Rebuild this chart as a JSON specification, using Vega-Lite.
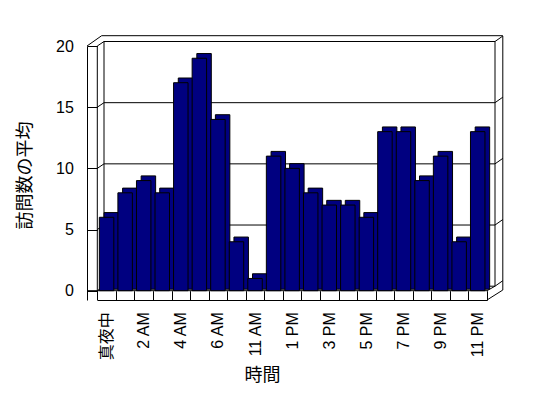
{
  "$schema": "https://vega.github.io/schema/vega-lite/v6.json",
  "width": 400,
  "height": 254,
  "autosize": "none",
  "padding": {"left": 87, "top": 46, "right": 61, "bottom": 98},
  "background": "white",
  "config": {"view": {"stroke": null}, "font": "Liberation Sans, Noto Sans CJK JP", "rule": {"color": "black", "strokeWidth": 1}},
  "datasets": {
    "visits": [
      {"時間": "真夜中", "訪問数の平均": 6},
      {"時間": "1 AM", "訪問数の平均": 8},
      {"時間": "2 AM", "訪問数の平均": 9},
      {"時間": "3 AM", "訪問数の平均": 8},
      {"時間": "4 AM", "訪問数の平均": 17},
      {"時間": "5 AM", "訪問数の平均": 19},
      {"時間": "6 AM", "訪問数の平均": 14},
      {"時間": "7 AM", "訪問数の平均": 4},
      {"時間": "11 AM", "訪問数の平均": 1},
      {"時間": "正午", "訪問数の平均": 11},
      {"時間": "1 PM", "訪問数の平均": 10},
      {"時間": "2 PM", "訪問数の平均": 8},
      {"時間": "3 PM", "訪問数の平均": 7},
      {"時間": "4 PM", "訪問数の平均": 7},
      {"時間": "5 PM", "訪問数の平均": 6},
      {"時間": "6 PM", "訪問数の平均": 13},
      {"時間": "7 PM", "訪問数の平均": 13},
      {"時間": "8 PM", "訪問数の平均": 9},
      {"時間": "9 PM", "訪問数の平均": 11},
      {"時間": "10 PM", "訪問数の平均": 4},
      {"時間": "11 PM", "訪問数の平均": 13}
    ],
    "levels": [{"訪問数の平均": 0}, {"訪問数の平均": 5}, {"訪問数の平均": 10}, {"訪問数の平均": 15}, {"訪問数の平均": 20}],
    "one": [{"k": 1}]
  },
  "layer": [
    {
      "data": {"name": "levels"},
      "mark": {"type": "rule", "xOffset": 6.7, "x2Offset": 17.3, "yOffset": -4.5},
      "encoding": {
        "x": {"datum": "真夜中", "type": "nominal", "bandPosition": 0},
        "x2": {"datum": "11 PM"},
        "y": {"field": "訪問数の平均", "type": "quantitative"}
      }
    },
    {
      "data": {"name": "levels"},
      "mark": {"type": "rule", "x2Offset": -2.57, "y2Offset": -4.5},
      "encoding": {
        "x": {"datum": "真夜中", "type": "nominal", "bandPosition": 0},
        "x2": {"datum": "真夜中"},
        "y": {"field": "訪問数の平均", "type": "quantitative"},
        "y2": {"field": "訪問数の平均"}
      }
    },
    {
      "data": {"name": "levels"},
      "mark": {"type": "rule", "xOffset": 8, "x2Offset": 25.1, "yOffset": -4.5, "y2Offset": -10},
      "encoding": {
        "x": {"datum": "11 PM", "type": "nominal", "bandPosition": 1},
        "x2": {"datum": "11 PM"},
        "y": {"field": "訪問数の平均", "type": "quantitative"},
        "y2": {"field": "訪問数の平均"}
      }
    },
    {
      "data": {"name": "one"},
      "mark": {"type": "rule", "xOffset": 4.4, "x2Offset": 25.1, "yOffset": -10.3},
      "encoding": {
        "x": {"datum": "真夜中", "type": "nominal", "bandPosition": 0},
        "x2": {"datum": "11 PM"},
        "y": {"datum": 20, "type": "quantitative"}
      }
    },
    {
      "data": {"name": "one"},
      "mark": {"type": "rule", "xOffset": -10.3, "x2Offset": -4.9, "y2Offset": -10.3},
      "encoding": {
        "x": {"datum": "真夜中", "type": "nominal", "bandPosition": 0},
        "x2": {"datum": "真夜中"},
        "y": {"datum": 20, "type": "quantitative"},
        "y2": {"datum": 20}
      }
    },
    {
      "data": {"name": "one"},
      "mark": {"type": "rule", "x2Offset": 25.1, "y2Offset": -10},
      "encoding": {
        "x": {"datum": "11 PM", "type": "nominal", "bandPosition": 1},
        "x2": {"datum": "11 PM"},
        "y": {"datum": -0.76, "type": "quantitative"},
        "y2": {"datum": -0.76}
      }
    },
    {
      "data": {"name": "one"},
      "mark": {"type": "rule", "x2Offset": 17.3, "y2Offset": -4.5},
      "encoding": {
        "x": {"datum": "11 PM", "type": "nominal", "bandPosition": 1},
        "x2": {"datum": "11 PM"},
        "y": {"datum": 0, "type": "quantitative"},
        "y2": {"datum": 0}
      }
    },
    {
      "data": {"name": "one"},
      "mark": {"type": "rule"},
      "encoding": {
        "y": {"datum": 0, "type": "quantitative"}
      }
    },
    {
      "data": {"name": "one"},
      "mark": {"type": "rule"},
      "encoding": {
        "x": {"datum": "真夜中", "type": "nominal", "bandPosition": 0},
        "y": {"datum": 0, "type": "quantitative"},
        "y2": {"datum": 20}
      }
    },
    {
      "data": {"name": "one"},
      "mark": {"type": "rule", "xOffset": 6.7, "yOffset": -4.5, "y2Offset": -4.5},
      "encoding": {
        "x": {"datum": "真夜中", "type": "nominal", "bandPosition": 0},
        "y": {"datum": 0, "type": "quantitative"},
        "y2": {"datum": 20}
      }
    },
    {
      "data": {"name": "one"},
      "mark": {"type": "rule", "xOffset": 8, "yOffset": -4.5, "y2Offset": -4.5},
      "encoding": {
        "x": {"datum": "11 PM", "type": "nominal", "bandPosition": 1},
        "y": {"datum": 0, "type": "quantitative"},
        "y2": {"datum": 20}
      }
    },
    {
      "data": {"name": "one"},
      "mark": {"type": "rule", "xOffset": 15.8, "yOffset": -10, "y2Offset": -10},
      "encoding": {
        "x": {"datum": "11 PM", "type": "nominal", "bandPosition": 1},
        "y": {"datum": -0.76, "type": "quantitative"},
        "y2": {"datum": 20}
      }
    },
    {
      "data": {"name": "visits"},
      "mark": {"type": "bar", "fill": "#000080", "stroke": "black", "strokeWidth": 1, "width": {"band": 0.78}, "xOffset": 4.7, "yOffset": -4.7, "y2Offset": -1.5},
      "encoding": {
        "x": {"field": "時間", "type": "nominal", "sort": null},
        "y": {"field": "訪問数の平均", "type": "quantitative"},
        "y2": {"datum": 0}
      }
    },
    {
      "data": {"name": "visits"},
      "mark": {"type": "bar", "fill": "#000080", "stroke": "black", "strokeWidth": 1, "width": {"band": 0.78}},
      "encoding": {
        "x": {
          "field": "時間", "type": "nominal", "sort": null,
          "scale": {
            "domain": ["真夜中", "1 AM", "2 AM", "3 AM", "4 AM", "5 AM", "6 AM", "7 AM", "11 AM", "正午", "1 PM", "2 PM", "3 PM", "4 PM", "5 PM", "6 PM", "7 PM", "8 PM", "9 PM", "10 PM", "11 PM"],
            "range": [10.3, 400], "paddingInner": 0, "paddingOuter": 0
          },
          "axis": {
            "title": "時間", "titleFont": "Noto Sans CJK JP", "titleFontSize": 18, "titleFontWeight": "normal", "titleColor": "black",
            "titleX": 175, "titleY": 66, "titleBaseline": "top", "titleAlign": "center",
            "labelFont": "Liberation Sans, Noto Sans CJK JP", "labelFontSize": 16, "labelColor": "black", "labelAngle": -90, "labelPadding": 21,
            "labelExpr": "indexof(['真夜中','2 AM','4 AM','6 AM','11 AM','1 PM','3 PM','5 PM','7 PM','9 PM','11 PM'], datum.value) >= 0 ? datum.label : ''",
            "labelOverlap": false,
            "tickBand": "extent", "tickSize": -9.3, "tickColor": "black", "domainColor": "black", "grid": false
          }
        },
        "y": {
          "field": "訪問数の平均", "type": "quantitative",
          "scale": {"domain": [-0.76, 20], "nice": false, "zero": false},
          "axis": {
            "title": "訪問数の平均", "values": [0, 5, 10, 15, 20],
            "tickSize": -10.3, "tickColor": "black", "domainColor": "black", "grid": false,
            "labelFont": "Liberation Sans", "labelFontSize": 16, "labelColor": "black", "labelPadding": 24,
            "titleFont": "Noto Sans CJK JP", "titleFontSize": 18, "titleFontWeight": "normal", "titleColor": "black",
            "titleX": -62, "titleY": 129, "titleBaseline": "middle", "titleAngle": -90
          }
        },
        "y2": {"datum": 0}
      }
    }
  ]
}
